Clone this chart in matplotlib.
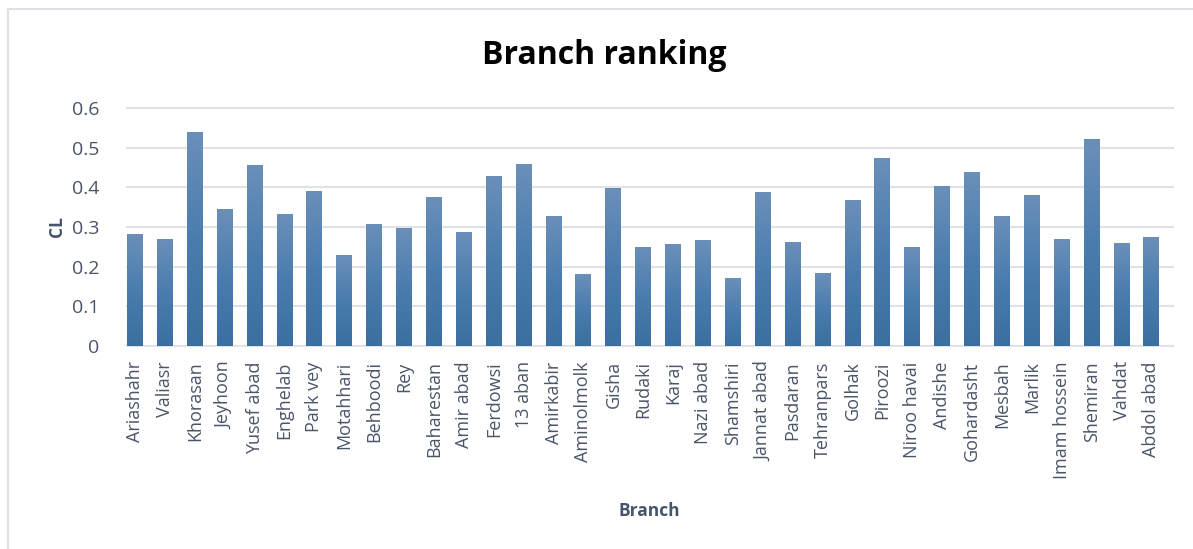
import numpy as np
import matplotlib
matplotlib.use("Agg")
import matplotlib.pyplot as plt
from matplotlib.patches import Rectangle
from matplotlib.colors import LinearSegmentedColormap

branches = ["Ariashahr", "Valiasr", "Khorasan", "Jeyhoon", "Yusef abad", "Enghelab",
            "Park vey", "Motahhari", "Behboodi", "Rey", "Baharestan", "Amir abad",
            "Ferdowsi", "13 aban", "Amirkabir", "Aminolmolk", "Gisha", "Rudaki",
            "Karaj", "Nazi abad", "Shamshiri", "Jannat abad", "Pasdaran", "Tehranpars",
            "Golhak", "Piroozi", "Niroo havai", "Andishe", "Gohardasht", "Mesbah",
            "Marlik", "Imam hossein", "Shemiran", "Vahdat", "Abdol abad"]
cl_values = [0.282, 0.270, 0.540, 0.345, 0.456, 0.333,
             0.391, 0.229, 0.308, 0.297, 0.376, 0.287,
             0.429, 0.459, 0.328, 0.182, 0.398, 0.250,
             0.257, 0.267, 0.171, 0.388, 0.262, 0.184,
             0.368, 0.474, 0.250, 0.403, 0.439, 0.328,
             0.381, 0.270, 0.522, 0.260, 0.275]
y_ticks = [0, 0.1, 0.2, 0.3, 0.4, 0.5, 0.6]
y_tick_labels = ["0", "0.1", "0.2", "0.3", "0.4", "0.5", "0.6"]

W, H = 1193, 549
fig = plt.figure(figsize=(W / 100, H / 100), dpi=100)
fig.patch.set_facecolor("white")

# chart border (cropped at right/bottom)
fig.patches.append(Rectangle((8 / W, -0.1), 1.2, 1 - 9 / H + 0.1, transform=fig.transFigure,
                             fill=False, edgecolor="#dde1e7", lw=1.5))

ax = fig.add_axes([127 / W, 1 - 346 / H, (1173 - 127) / W, (346 - 108) / H])
x = np.arange(len(branches))
bars = ax.bar(x, cl_values, width=0.535, color="#4a7cae", zorder=2)

cmap = LinearSegmentedColormap.from_list("g", ["#3a6f9f", "#4a7dae", "#6b8fb9"])
grad = np.linspace(0, 1, 256).reshape(-1, 1)
for b in bars:
    x0, y0 = b.get_x(), b.get_y()
    w, h = b.get_width(), b.get_height()
    im = ax.imshow(grad, cmap=cmap, origin="lower", aspect="auto",
                   extent=[x0, x0 + w, y0, y0 + h], zorder=3)
    im.set_clip_path(b)

ax.set_xlim(-0.27, len(branches) - 1 + 0.72)
ax.set_ylim(0, 0.6)
ax.set_yticks(y_ticks)
ax.set_yticklabels(y_tick_labels)
ax.set_xticks(x)
ax.set_xticklabels(branches, rotation=90)

for yv in y_ticks:
    ax.axhline(yv, color="#dfe3e9", lw=1.5, zorder=1, clip_on=False)

for s in ax.spines.values():
    s.set_visible(False)

tick_color = "#4a5568"
font = "Open Sans"
ax.tick_params(axis="both", length=0, colors=tick_color)
ax.tick_params(axis="y", pad=20, labelsize=14)
ax.tick_params(axis="x", pad=11, labelsize=13)
for lab in ax.get_xticklabels() + ax.get_yticklabels():
    lab.set_fontfamily(font)

ax.set_ylabel("CL", fontsize=12.5, fontweight="bold", color="#44546a", fontfamily=font, labelpad=4)
fig.text(649 / W, 1 - 511 / H, "Branch", ha="center", va="center", fontsize=12.5,
         fontweight="bold", color="#44546a", fontfamily=font)
fig.text(604 / W, 1 - 55 / H, "Branch ranking", ha="center", va="center", fontsize=23,
         fontweight="bold", color="black", fontfamily=font)

fig.savefig("out.png", dpi=100)
